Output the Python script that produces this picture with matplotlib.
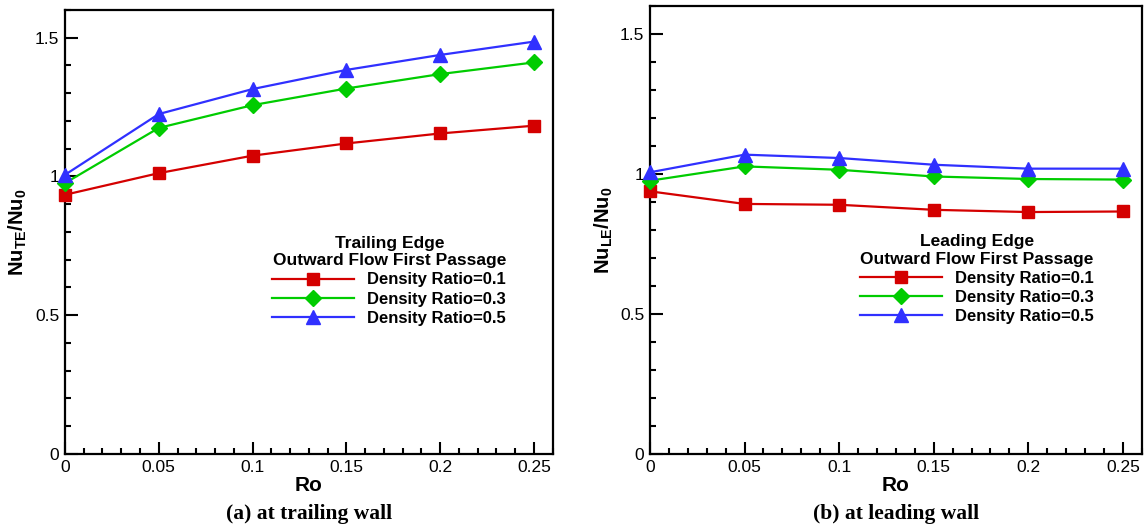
import matplotlib
matplotlib.use("Agg")
import matplotlib.pyplot as plt
from matplotlib.ticker import MultipleLocator, FormatStrFormatter

plt.rcParams['font.family'] = ['Liberation Sans', 'DejaVu Sans']
plt.rcParams['mathtext.fontset'] = 'custom'
plt.rcParams['mathtext.rm'] = 'Liberation Sans'
plt.rcParams['mathtext.bf'] = 'Liberation Sans:bold'

ro = [0, 0.05, 0.1, 0.15, 0.2, 0.25]

# trailing wall
te_dr01 = [0.934, 1.012, 1.075, 1.119, 1.155, 1.183]
te_dr03 = [0.976, 1.175, 1.257, 1.317, 1.369, 1.411]
te_dr05 = [1.006, 1.225, 1.315, 1.384, 1.438, 1.486]

# leading wall
le_dr01 = [0.938, 0.893, 0.890, 0.872, 0.864, 0.866]
le_dr03 = [0.976, 1.027, 1.015, 0.991, 0.982, 0.980]
le_dr05 = [1.006, 1.069, 1.057, 1.033, 1.019, 1.019]

labels = ['Density Ratio=0.1', 'Density Ratio=0.3', 'Density Ratio=0.5']
colors = ['#d40000', '#00cc00', '#3030ff']
markers = ['s', 'D', '^']
msizes = [9, 8, 10]

fig = plt.figure(figsize=(11.46, 5.28), dpi=100)
ax1 = fig.add_axes([0.0567, 0.1402, 0.4256, 0.8409])
ax2 = fig.add_axes([0.5672, 0.1402, 0.4291, 0.8485])


def panel(ax, series, ylabel, title, caption):
    for y, lab, c, m, ms in zip(series, labels, colors, markers, msizes):
        ax.plot(ro, y, color=c, marker=m, markersize=ms, linewidth=1.6,
                label=lab, clip_on=False, zorder=3)
    ax.set_xlim(0, 0.26)
    ax.set_ylim(0, 1.6)
    ax.xaxis.set_major_locator(MultipleLocator(0.05))
    ax.xaxis.set_minor_locator(MultipleLocator(0.01))
    ax.yaxis.set_major_locator(MultipleLocator(0.5))
    ax.yaxis.set_minor_locator(MultipleLocator(0.1))
    ax.xaxis.set_major_formatter(FormatStrFormatter('%g'))
    ax.yaxis.set_major_formatter(FormatStrFormatter('%g'))
    ax.tick_params(which='both', direction='in', top=False, right=False,
                   width=1.5, labelsize=12.5)
    ax.tick_params(which='major', length=9, pad=4)
    ax.tick_params(which='minor', length=4.5)
    for s in ax.spines.values():
        s.set_linewidth(1.6)
    ax.set_xlabel('Ro', fontsize=15, fontweight='bold', labelpad=1)
    ax.set_ylabel(ylabel, fontsize=14.5, labelpad=4)
    leg = ax.legend(title=title, loc='center', bbox_to_anchor=(0.665, 0.39),
                    frameon=False, prop={'weight': 'bold', 'size': 12},
                    title_fontproperties={'weight': 'bold', 'size': 12.5},
                    handlelength=4.9, labelspacing=0.25, handletextpad=0.8,
                    borderpad=0.2)
    leg.get_title().set_multialignment('center')
    ax.text(0.5, -0.135, caption, transform=ax.transAxes, ha='center',
            va='center', fontsize=15.5, fontweight='bold',
            family='Liberation Serif')


panel(ax1, [te_dr01, te_dr03, te_dr05], r'$\mathbf{Nu_{TE}/Nu_0}$',
      'Trailing Edge\nOutward Flow First Passage', '(a) at trailing wall')
panel(ax2, [le_dr01, le_dr03, le_dr05], r'$\mathbf{Nu_{LE}/Nu_0}$',
      'Leading Edge\nOutward Flow First Passage', '(b) at leading wall')

fig.savefig('out.png', dpi=100)
